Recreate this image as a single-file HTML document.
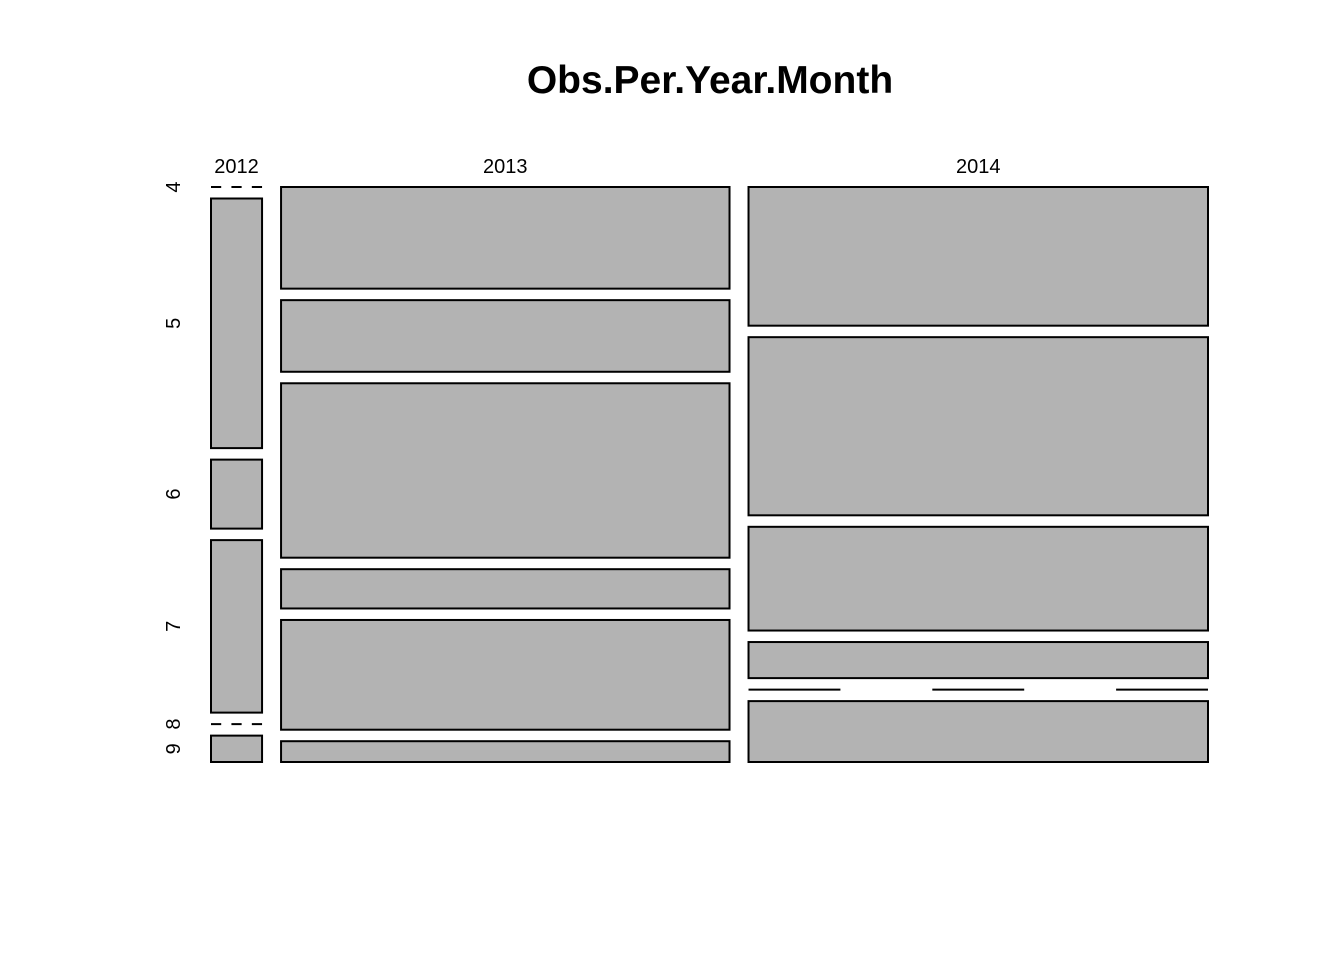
<!DOCTYPE html>
<html><head><meta charset="utf-8"><style>
body{margin:0;background:#fff;}
svg{display:block;font-family:"Liberation Sans",Arial,sans-serif;}
</style></head><body>
<svg id="chart" width="1344" height="960">
<text x="710" y="93" text-anchor="middle" font-size="39" font-weight="bold">Obs.Per.Year.Month</text>
</svg>
<script>
const years = ["2012","2013","2014"];
const months = ["4","5","6","7","8","9"];
const counts2012 = [0, 24.6, 6.8, 17, 0, 2.6];
const counts2013 = [88, 62, 151, 34, 95, 18];
const counts2014 = [123, 158, 92, 32, 0, 54];
const series = [counts2012, counts2013, counts2014];

const NS = "http://www.w3.org/2000/svg";
const svg = document.getElementById("chart");
const x0 = 211, x1 = 1208, xGap = 19, y0 = 187, y1 = 762, yGap = 11.5;
const colTotals = series.map(s => s.reduce((a,b)=>a+b,0));
const N = colTotals.reduce((a,b)=>a+b,0);
const availW = (x1 - x0) - xGap*(years.length-1);
const availH = (y1 - y0) - yGap*(months.length-1);
function mk(tag, attrs){const e=document.createElementNS(NS,tag);for(const k in attrs)e.setAttribute(k,attrs[k]);svg.appendChild(e);return e;}
let x = x0;
series.forEach((col, ci) => {
  const w = availW * colTotals[ci] / N;
  const lab = mk("text",{x:x+w/2,y:173,"text-anchor":"middle","font-size":"20"});
  lab.textContent = years[ci];
  
  
  let y = y0;
  col.forEach((v, ri) => {
    const h = availH * v / colTotals[ci];
    let el;
    if (v === 0) {
      el = mk("line",{x1:x,x2:x+w,y1:y,y2:y,stroke:"#000","stroke-width":2,"stroke-dasharray":(w/5)+","+(w/5)});
    } else {
      el = mk("rect",{x:x,y:y,width:w,height:h,fill:"#b3b3b3",stroke:"#000","stroke-width":2});
    }
    
    
    if (ci === 0) {
      const cy = y + h/2;
      const t = mk("text",{x:0,y:0,"text-anchor":"middle","font-size":"20",transform:"translate(180,"+cy+") rotate(-90)"});
      t.textContent = months[ri];
      
      
    }
    y += h + yGap;
  });
  x += w + xGap;
});
</script>
</body></html>
